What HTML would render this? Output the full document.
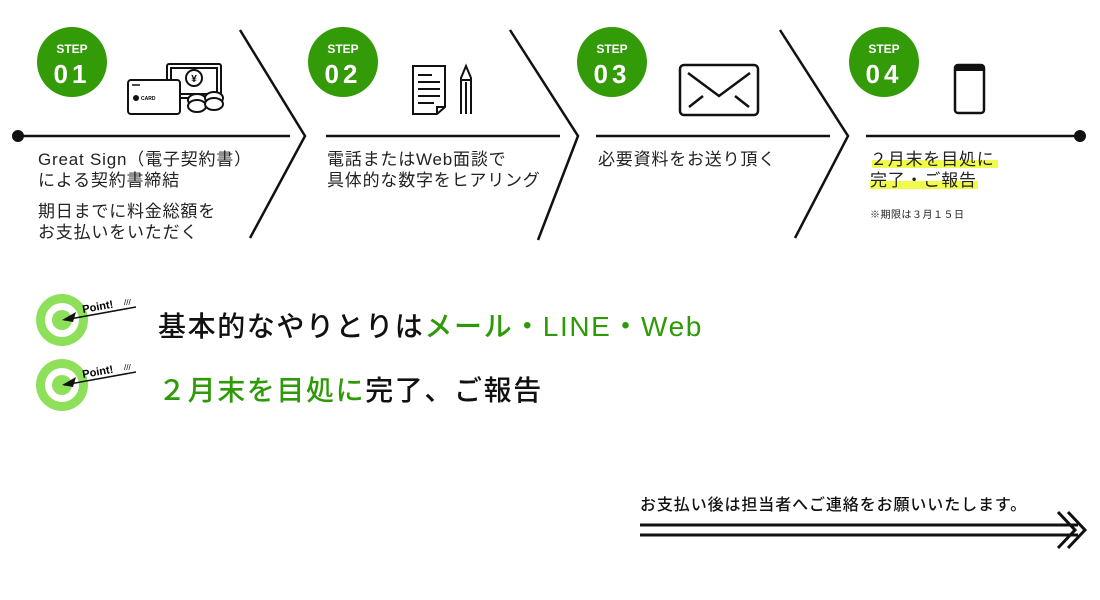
<!DOCTYPE html>
<html><head><meta charset="utf-8"><style>
body{margin:0;width:1100px;height:600px;background:#fff;overflow:hidden;font-family:"Liberation Sans","Noto Sans CJK JP",sans-serif;color:#222}
.t{position:absolute;white-space:nowrap}
.s{font-size:17px;line-height:21px;letter-spacing:0.8px}
</style></head><body>
<svg width="1100" height="600" style="position:absolute;left:0;top:0" xmlns="http://www.w3.org/2000/svg">
<g fill="#339a08">
<circle cx="72" cy="62" r="35"/><circle cx="343" cy="62" r="35"/><circle cx="612" cy="62" r="35"/><circle cx="884" cy="62" r="35"/>
</g>
<g fill="#fff" font-family="Liberation Sans,sans-serif" font-weight="bold" text-anchor="middle">
<text x="72" y="53" font-size="12">STEP</text><text x="72" y="83" font-size="26" letter-spacing="4">01</text>
<text x="343" y="53" font-size="12">STEP</text><text x="343" y="83" font-size="26" letter-spacing="4">02</text>
<text x="612" y="53" font-size="12">STEP</text><text x="612" y="83" font-size="26" letter-spacing="4">03</text>
<text x="884" y="53" font-size="12">STEP</text><text x="884" y="83" font-size="26" letter-spacing="4">04</text>
</g>
<g stroke="#111" stroke-width="2.5" fill="none">
<line x1="18" y1="136" x2="290" y2="136"/>
<line x1="326" y1="136" x2="560" y2="136"/>
<line x1="596" y1="136" x2="830" y2="136"/>
<line x1="866" y1="136" x2="1080" y2="136"/>
<polyline points="240,30 305,136 250,238"/>
<polyline points="510,30 578,136 538,240"/>
<polyline points="780,30 848,136 795,238"/>
</g>
<circle cx="18" cy="136" r="6" fill="#111"/><circle cx="1080" cy="136" r="6" fill="#111"/>
<g stroke="#111" stroke-width="2" fill="#fff">
<rect x="167" y="64" width="54" height="34" rx="2"/><rect x="171" y="68" width="46" height="26" fill="none"/>
<circle cx="194" cy="78" r="8"/>
<rect x="128" y="80" width="52" height="34" rx="3"/>
<ellipse cx="197" cy="100" rx="9" ry="6"/><ellipse cx="197" cy="106" rx="9" ry="6"/>
<ellipse cx="214" cy="98" rx="9" ry="6"/><ellipse cx="214" cy="104" rx="9" ry="6"/>
</g>
<text x="194" y="82" font-size="10" text-anchor="middle" font-weight="bold">¥</text>
<circle cx="136" cy="98" r="3" fill="#111"/><text x="141" y="100" font-size="5" font-weight="bold">CARD</text>
<line x1="132" y1="85" x2="140" y2="85" stroke="#111" stroke-width="1.5"/>
<g stroke="#111" stroke-width="2" fill="none">
<path d="M413,66 H445 V107 L437,114 H413 Z"/><path d="M437,114 V107 H445"/>
<line x1="418" y1="75" x2="432" y2="75"/><line x1="418" y1="82" x2="440" y2="82"/><line x1="418" y1="89" x2="440" y2="89"/><line x1="418" y1="96" x2="440" y2="96"/><line x1="418" y1="103" x2="434" y2="103"/>
<path d="M461,114 V78 L466,66 L471,78 V114"/><line x1="461" y1="80" x2="471" y2="80"/><line x1="466" y1="82" x2="466" y2="114"/>
</g>
<g stroke="#111" stroke-width="2.5" fill="none">
<rect x="680" y="65" width="78" height="50" rx="4"/>
<polyline points="688,73 719,96 750,73"/><line x1="689" y1="107" x2="703" y2="96"/><line x1="749" y1="107" x2="735" y2="96"/>
</g>
<rect x="955" y="65" width="29" height="48" rx="3" fill="#fff" stroke="#111" stroke-width="2.5"/>
<rect x="955" y="65" width="29" height="6" fill="#111"/>
<rect x="872" y="160" width="126" height="8" fill="#f0fb4a"/>
<rect x="870" y="181" width="108" height="8" fill="#f0fb4a"/>
<g>
<circle cx="62" cy="320" r="26" fill="#8ee05a"/><circle cx="62" cy="320" r="17" fill="#fff"/><circle cx="62" cy="320" r="10" fill="#8ee05a"/>
<circle cx="62" cy="385" r="26" fill="#8ee05a"/><circle cx="62" cy="385" r="17" fill="#fff"/><circle cx="62" cy="385" r="10" fill="#8ee05a"/>
<line x1="64" y1="320" x2="136" y2="307" stroke="#111" stroke-width="1.5"/><path d="M62,320 L76,312 L73,322 Z" fill="#111"/>
<line x1="64" y1="385" x2="136" y2="372" stroke="#111" stroke-width="1.5"/><path d="M62,385 L76,377 L73,387 Z" fill="#111"/>
<text x="83" y="313" font-size="11" font-weight="bold" transform="rotate(-10 83 313)">Point!</text>
<text x="83" y="378" font-size="11" font-weight="bold" transform="rotate(-10 83 378)">Point!</text>
<text x="124" y="305" font-size="8">///</text><text x="124" y="370" font-size="8">///</text>
</g>
<g stroke="#111" stroke-width="3" fill="none">
<line x1="640" y1="525" x2="1078" y2="525"/><line x1="640" y1="535" x2="1078" y2="535"/>
<polyline points="1058,512 1075,530 1058,548"/><polyline points="1068,512 1085,530 1068,548"/>
</g>
</svg>
<div class="t s" style="left:38px;top:149px">Great Sign（電子契約書）<br>による契約書締結</div>
<div class="t s" style="left:38px;top:201px">期日までに料金総額を<br>お支払いをいただく</div>
<div class="t s" style="left:327px;top:149px">電話またはWeb面談で<br>具体的な数字をヒアリング</div>
<div class="t s" style="left:598px;top:149px">必要資料をお送り頂く</div>
<div class="t s" style="left:870px;top:149px">２月末を目処に<br>完了・ご報告</div>
<div class="t" style="left:870px;top:206px;font-size:10px;letter-spacing:0.5px">※期限は３月１５日</div>
<div class="t" style="left:158px;top:305px;font-size:28px;letter-spacing:1.6px;font-weight:500;color:#111">基本的なやりとりは<span style="color:#2f9a08">メール・LINE・Web</span></div>
<div class="t" style="left:158px;top:369px;font-size:28px;letter-spacing:1.6px;font-weight:500;color:#111"><span style="color:#2f9a08">２月末を目処に</span>完了、ご報告</div>
<div class="t" style="left:640px;top:491px;font-size:16px;letter-spacing:0.9px;font-weight:500;color:#111">お支払い後は担当者へご連絡をお願いいたします。</div>
</body></html>
